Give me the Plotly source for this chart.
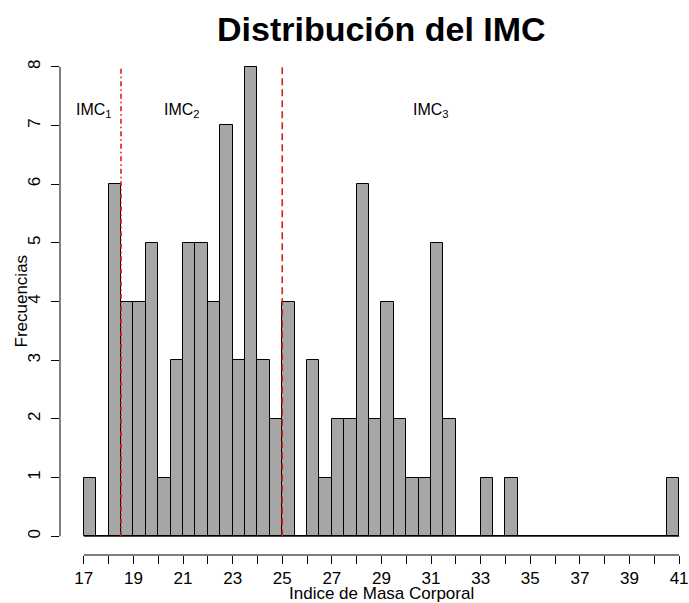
import plotly.graph_objects as go

# Histogram of BMI values: bins of width 0.5 starting at 17
bin_start = 17.0
bin_width = 0.5
counts = [1, 0, 6, 4, 4, 5, 1, 3, 5, 5, 4, 7, 3, 8, 3, 2, 4, 0, 3, 1,
          2, 2, 6, 2, 4, 2, 1, 1, 5, 2, 0, 0, 1, 0, 1, 0, 0, 0, 0, 0,
          0, 0, 0, 0, 0, 0, 0, 1]

x_minor_ticks = list(range(17, 42))
x_ticks = list(range(17, 42, 2))
x_tick_labels = [str(v) for v in x_ticks]
y_ticks = list(range(0, 9))
y_tick_labels = [str(v) for v in y_ticks]

# Cut points between BMI groups
cut_points = [18.5, 25.0]
cut_styles = ["5px,3px,1.5px,3px", "7px,4px"]
group_labels = ["IMC<sub>1</sub>", "IMC<sub>2</sub>", "IMC<sub>3</sub>"]
group_label_x = [17.4, 20.95, 31.0]
group_label_y = 7.25

title_text = "<b>Distribución del IMC</b>"
x_title = "Indice de Masa Corporal"
y_title = "Frecuencias"

FONT = "Liberation Sans, Arial, Helvetica, sans-serif"
n_bins = len(counts)
centers = [bin_start + bin_width * (i + 0.5) for i in range(n_bins)]
x_lo = bin_start
x_hi = bin_start + bin_width * n_bins
y_max = max(counts)

# R-style padded ranges (4% each side)
x_pad = 0.04 * (x_hi - x_lo)
y_pad = 0.04 * y_max
W, H = 689, 603
ml, mt, mb = 60, 48, 48
full_px = 706 - ml  # width of the padded plot region
units_per_px = (x_hi - x_lo + 2 * x_pad) / full_px
x_range = [x_lo - x_pad, x_lo - x_pad + (W - ml) * units_per_px]

fig = go.Figure()

# Baseline drawn by zero-height bins
fig.add_trace(go.Scatter(x=[x_lo, x_hi], y=[0, 0], mode="lines",
                         line=dict(color="black", width=1),
                         hoverinfo="skip", showlegend=False))

fig.add_trace(go.Bar(x=centers, y=counts, width=bin_width,
                     marker=dict(color="#A6A6A6",
                                 line=dict(color="black", width=1)),
                     showlegend=False))

for cp, dash in zip(cut_points, cut_styles):
    fig.add_trace(go.Scatter(x=[cp, cp], y=[0, y_max], mode="lines",
                             line=dict(color="#dd1c1c", width=1.6, dash=dash),
                             hoverinfo="skip", showlegend=False))

for lx, lt in zip(group_label_x, group_labels):
    fig.add_annotation(x=lx, y=group_label_y, xref="x", yref="y",
                       text=lt, showarrow=False,
                       font=dict(family=FONT, size=16, color="black"),
                       xanchor="center", yanchor="middle")

# Axis lines spanning only the tick range
fig.add_shape(type="line", xref="x", yref="paper",
              x0=x_minor_ticks[0], x1=x_minor_ticks[-1], y0=0, y1=0,
              line=dict(color="black", width=1))
fig.add_shape(type="line", xref="paper", yref="y",
              x0=0, x1=0, y0=y_ticks[0], y1=y_ticks[-1],
              line=dict(color="black", width=1))

fig.add_annotation(x=(x_lo + x_hi) / 2, y=1, xref="x", yref="paper",
                   text=title_text, showarrow=False, yshift=19,
                   font=dict(family=FONT, size=34, color="black"),
                   xanchor="center", yanchor="middle")
fig.add_annotation(x=(x_lo + x_hi) / 2, y=0, xref="x", yref="paper",
                   text=x_title, showarrow=False, yshift=-38,
                   font=dict(family=FONT, size=17, color="black"),
                   xanchor="center", yanchor="middle")
fig.add_annotation(x=0, y=(y_ticks[0] + y_ticks[-1]) / 2, xref="paper", yref="y",
                   text=y_title, showarrow=False, xshift=-39, textangle=-90,
                   font=dict(family=FONT, size=17, color="black"),
                   xanchor="center", yanchor="middle")

fig.update_layout(
    width=W, height=H,
    margin=dict(l=ml, r=0, t=mt, b=mb),
    plot_bgcolor="white", paper_bgcolor="white",
    bargap=0,
    font=dict(family=FONT, size=17, color="black"),
    xaxis=dict(range=x_range, tickmode="array", tickvals=x_ticks,
               ticktext=x_tick_labels, ticks="outside", ticklen=8,
               tickcolor="black", showgrid=False, zeroline=False,
               showline=False, tickfont=dict(family=FONT, size=17),
               ticklabelstandoff=0, ticklabeloverflow="allow",
               minor=dict(tickmode="array", tickvals=x_minor_ticks,
                          ticks="outside", ticklen=8, tickcolor="black",
                          showgrid=False)),
    yaxis=dict(range=[-y_pad, y_max + y_pad], tickmode="array",
               tickvals=y_ticks, ticktext=y_tick_labels, ticks="outside",
               ticklen=8, tickcolor="black", showgrid=False, zeroline=False,
               showline=False, tickangle=-90,
               tickfont=dict(family=FONT, size=17), ticklabelstandoff=4),
)

fig.write_html("out.html")
